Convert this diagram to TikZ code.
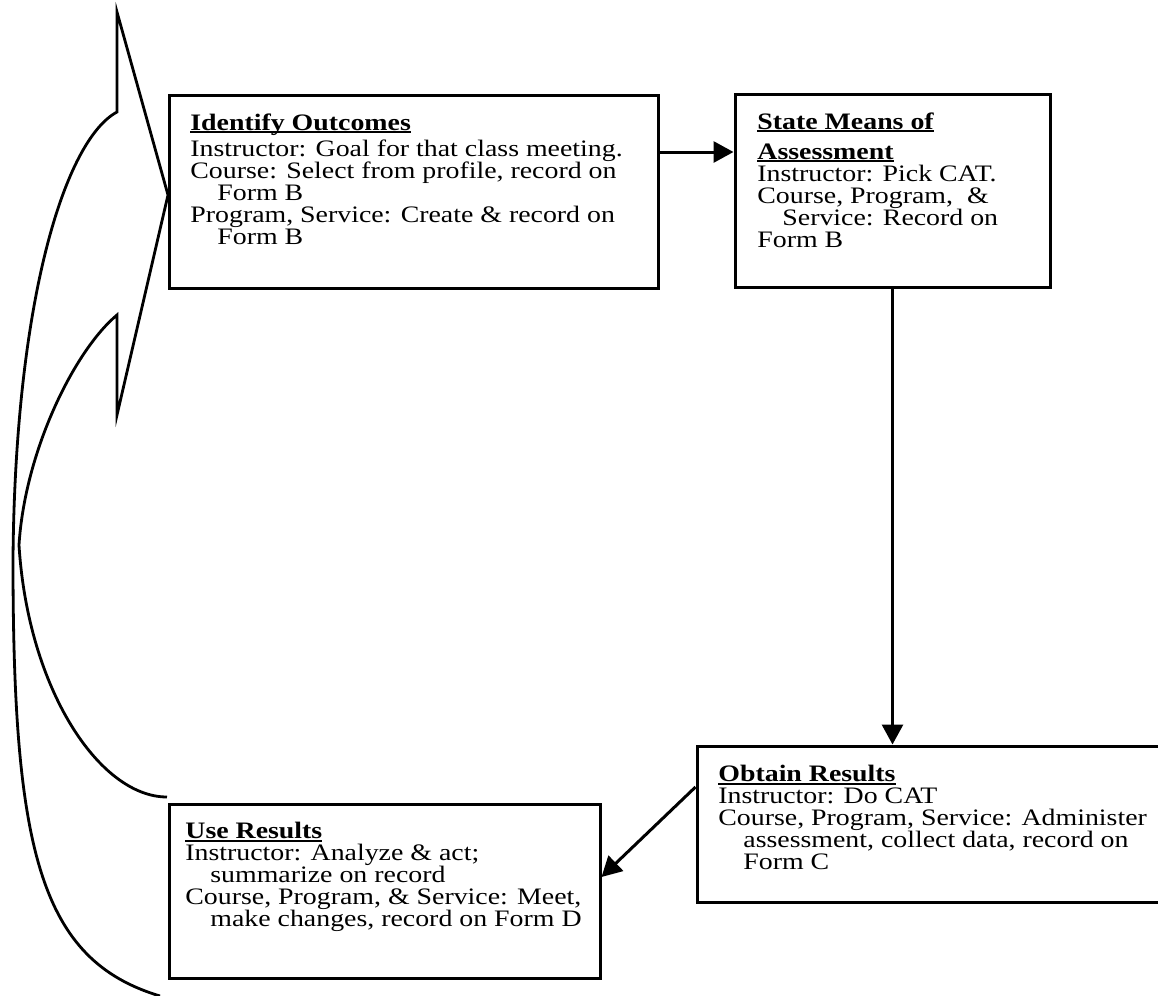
\documentclass[tikz,border=0pt]{standalone}
\usepackage{fontspec}
\setmainfont{Liberation Serif}[FakeStretch=1.18]
\usetikzlibrary{arrows.meta,fit}
\newcommand\hdul[1]{\setbox0\hbox{\textbf{#1}}\rlap{\rule[-1.5pt]{\wd0}{0.9pt}}\box0}
\tikzset{
  box/.style={draw, line width=1.5pt, inner sep=0pt},
  txt/.style={anchor=north west, inner sep=0pt, align=left, font=\fontsize{11.8pt}{11pt}\selectfont},
  arr/.style={line width=1.5pt, -{Triangle[length=10pt,width=10.5pt]}},
  bigarrow/.style={line width=1.4pt, line join=miter}
}
\begin{document}
\begin{tikzpicture}[x=0.5pt,y=-0.5pt]
\useasboundingbox (0,0) rectangle (1158,996);
% boxes
\node[box, fit={(169,95) (658,288)}] (io) {};
\node[box, fit={(735,94) (1050,287)}] (sm) {};
\node[box, fit={(697,746) (1164,902)}] (or) {};
\node[box, fit={(169,804) (600,978)}] (ur) {};
% texts
\node[txt] (iot) at (190,113) {\hdul{Identify Outcomes}\\[2pt]
Instructor: Goal for that class meeting.\\
Course: Select from profile, record on\\
\hspace*{13.5pt}Form B\\
Program, Service: Create \& record on\\
\hspace*{13.5pt}Form B};
\node[txt] (smt) at (757,112) {\hdul{State Means of}\\[4pt]
\hdul{Assessment}\\
Instructor: Pick CAT.\\
Course, Program,\ \ \&\\
\hspace*{12.5pt}Service: Record on\\
Form B};
\node[txt] (ort) at (718,765) {\hdul{Obtain Results}\\
Instructor: Do CAT\\
Course, Program, Service: Administer\\
\hspace*{12.5pt}assessment, collect data, record on\\
\hspace*{12.5pt}Form C};
\node[txt] (urt) at (185,822) {\hdul{Use Results}\\
Instructor: Analyze \& act;\\
\hspace*{12.5pt}summarize on record\\
Course, Program, \& Service: Meet,\\
\hspace*{12.5pt}make changes, record on Form D};
% connectors
\coordinate (y1) at (0,152);
\coordinate (y2) at (0,787);
\coordinate (y3) at (0,877);
\draw[arr] (io.east |- y1) -- (sm.west |- y1);
\draw[arr] (sm.south) -- (sm.south |- or.north);
\draw[arr] (or.west |- y2) -- (ur.east |- y3);
% big curved arrow
\draw[bigarrow] (160,996) .. controls (40,960) and (13,850) .. (13,560)
  .. controls (15,300) and (65,140) .. (117,112) -- (117,12) -- (168,195)
  -- (117,415) -- (117,315) .. controls (75,350) and (25,450) .. (19,545)
  .. controls (28,690) and (100,797) .. (167,797);
\end{tikzpicture}
\end{document}
